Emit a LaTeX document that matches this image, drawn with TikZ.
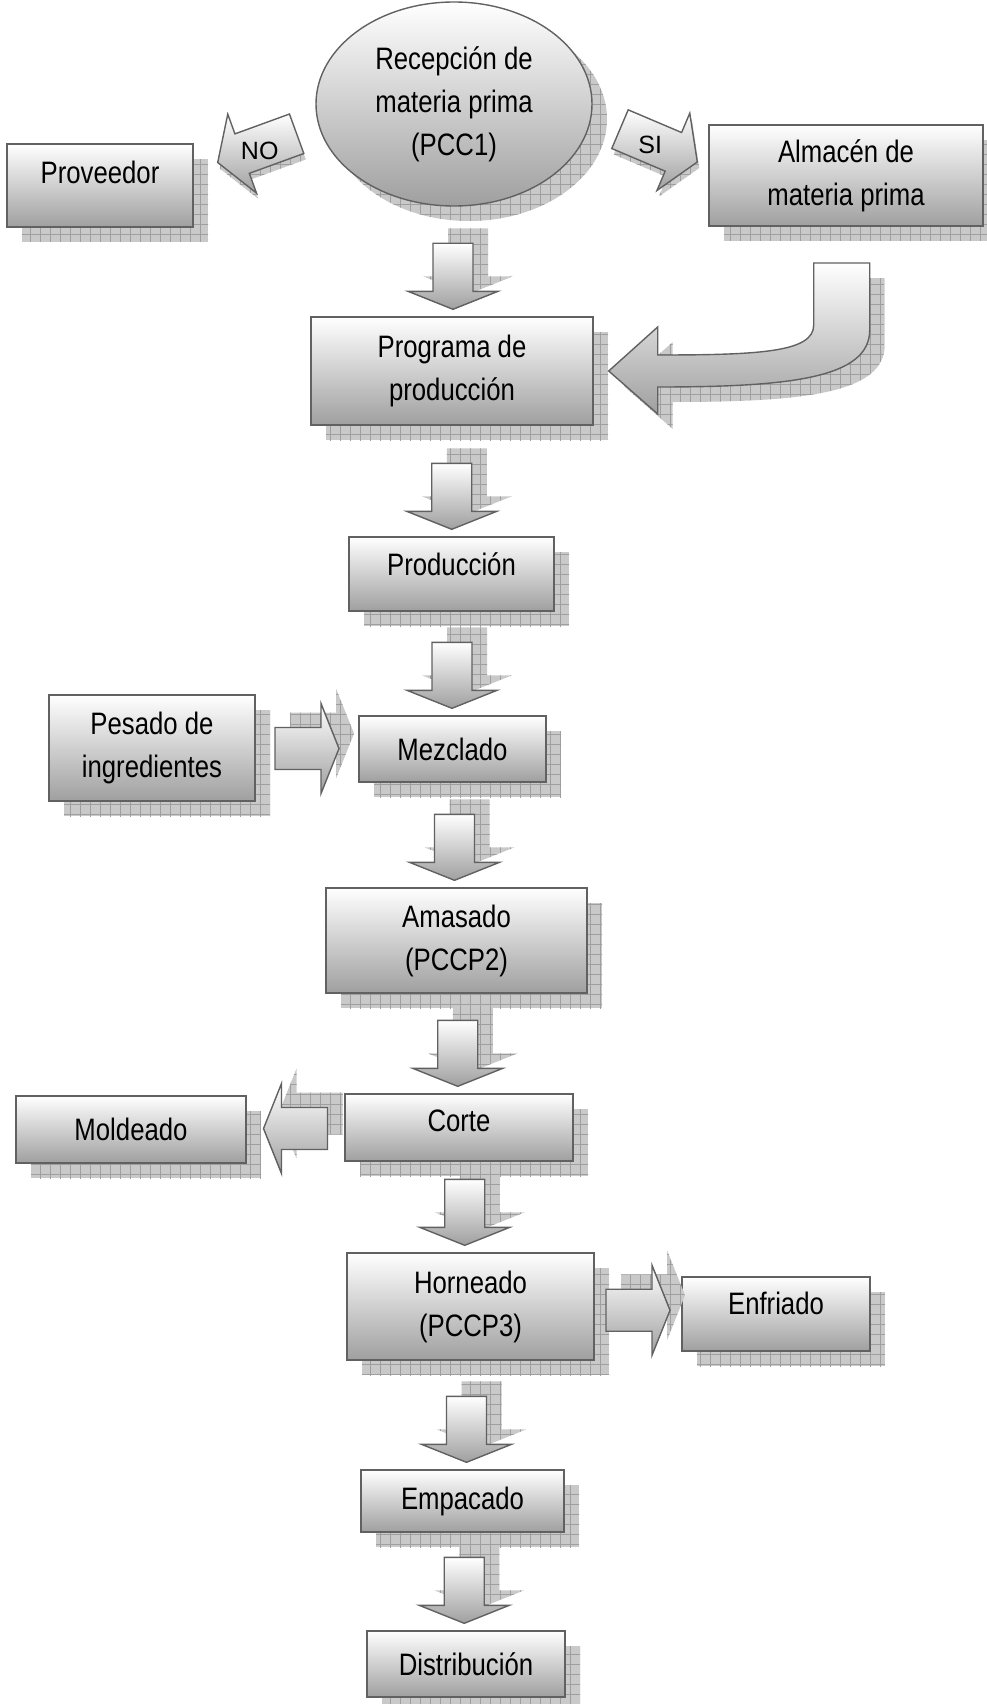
\documentclass[tikz,border=0pt]{standalone}
\usepackage{fontspec}
\newfontfamily\narrowfont{Liberation Sans}[FakeStretch=0.83]
\newfontfamily\labelfont{Liberation Sans}
\usetikzlibrary{shapes.geometric, calc, patterns.meta}

\tikzset{
  hatchshadow/.style={
    preaction={fill=gray!42, transform canvas={shift={#1}}},
    preaction={pattern={Hatch[angle=0, distance=10pt, line width=0.6pt]}, pattern color=gray!75, transform canvas={shift={#1}}}},
  boxshadow/.style={hatchshadow={(15pt,-15pt)}},
  upshadow/.style={hatchshadow={(15pt,15pt)}},
  slimshadow/.style={hatchshadow={(2pt,-6pt)}},
  shadefill/.style={draw=black!62, line width=1.4pt, top color=white, bottom color=gray!75},
  box/.style={rectangle, shadefill, boxshadow, inner sep=0pt, align=center,
    font=\narrowfont\fontsize{31}{43}\selectfont},
  oval/.style={ellipse, shadefill, boxshadow, inner sep=0pt, align=center,
    minimum width=276pt, minimum height=204pt, font=\narrowfont\fontsize{31}{43}\selectfont},
  textup/.style={text depth=#1},
  blockarrow/.style={shadefill, line join=miter},
  lbl/.style={font=\labelfont\fontsize{25}{30}\selectfont, inner sep=0pt}
}

% flechas gruesas entre dos nodos
\newcommand{\fatdown}[2]{%
  \path let \p1=($(#1.center)!0.5!(#2.center)$), \p2=(#2.north) in (\x1,\y2+7pt) coordinate (tip);
  \draw[blockarrow, upshadow, shift={(tip)}] (0,0) -- (45,-18) -- (20,-18) -- (20,-66)
    -- (-20,-66) -- (-20,-18) -- (-45,-18) -- cycle;
}
\newcommand{\fatright}[2]{%
  \path let \p1=($(#1.east)!0.5!(#2.west)$) in (\x1+32pt,\y1) coordinate (tip);
  \draw[blockarrow, upshadow, shift={(tip)}] (0,0) -- (-18,-45) -- (-18,-21) -- (-64,-21)
    -- (-64,21) -- (-18,21) -- (-18,45) -- cycle;
}
\newcommand{\fatleft}[2]{%
  \path let \p1=($(#1.west)!0.5!(#2.east)$) in (\x1-32pt,\y1) coordinate (tip);
  \draw[blockarrow, upshadow, shift={(tip)}] (0,0) -- (18,-45) -- (18,-21) -- (64,-21)
    -- (64,21) -- (18,21) -- (18,45) -- cycle;
}

\begin{document}
\begin{tikzpicture}[x=1pt, y=-1pt]
\useasboundingbox (0,0) rectangle (986,1704);

% nodos
\node[oval] (rec) at (454,104) {Recepción de\\materia prima\\(PCC1)};
\node[box, textup=26pt, minimum width=186pt, minimum height=83pt] (prov) at (100,185.5) {Proveedor};
\node[box, minimum width=274pt, minimum height=101pt] (alm) at (846,175.5) {Almacén de\\materia prima};
\node[box, minimum width=282pt, minimum height=108pt] (prog) at (452,371) {Programa de\\producción};
\node[box, textup=20pt, minimum width=205pt, minimum height=74pt] (prod) at (451.5,574) {Producción};
\node[box, minimum width=206pt, minimum height=106pt] (pes) at (152,748) {Pesado de\\ingredientes};
\node[box, minimum width=187pt, minimum height=66pt] (mez) at (452.5,749) {Mezclado};
\node[box, minimum width=261pt, minimum height=105pt] (ama) at (456.5,940.5) {Amasado\\(PCCP2)};
\node[box, minimum width=230pt, minimum height=67pt] (mol) at (131,1129.5) {Moldeado};
\node[box, textup=14pt, minimum width=228pt, minimum height=67pt] (cor) at (459,1127.5) {Corte};
\node[box, minimum width=247pt, minimum height=107pt] (hor) at (470.5,1306.5) {Horneado\\(PCCP3)};
\node[box, textup=22pt, minimum width=188pt, minimum height=74pt] (enf) at (776,1314) {Enfriado};
\node[box, minimum width=203pt, minimum height=62pt] (emp) at (462.5,1501) {Empacado};
\node[box, minimum width=198pt, minimum height=66pt] (dis) at (466,1664) {Distribución};

% NO / SI
\draw[blockarrow, slimshadow, shift={($(prov.east)+(24,-23)$)}, rotate=200]
  (0,0) -- (-26,-42) -- (-26,-21) -- (-84,-21) -- (-84,21) -- (-26,21) -- (-26,42) -- cycle;
\node[lbl] (no) at ($(prov.east)+(66,-35)$) {NO};
\draw[blockarrow, slimshadow, shift={($(alm.west)+(-11,-13.5)$)}, rotate=-23]
  (0,0) -- (-26,-42) -- (-26,-21) -- (-84,-21) -- (-84,21) -- (-26,21) -- (-26,42) -- cycle;
\node[lbl] (si) at ($(alm.west)+(-58,-31)$) {SI};

% almacen -> programa
\draw[blockarrow, boxshadow, shift={(prog.east)}]
  (220,-108) -- (276,-108) -- (276,-41) .. controls (276,7) and (197,16) .. (64,16)
  -- (64,43) -- (15,0) -- (64,-44) -- (64,-16) .. controls (167,-16) and (220,-19) .. (220,-46) -- cycle;

\fatdown{rec}{prog}
\fatdown{prog}{prod}
\fatdown{prod}{mez}
\fatright{pes}{mez}
\fatdown{mez}{ama}
\fatdown{ama}{cor}
\fatleft{cor}{mol}
\fatdown{cor}{hor}
\fatright{hor}{enf}
\fatdown{hor}{emp}
\fatdown{emp}{dis}
\end{tikzpicture}
\end{document}
